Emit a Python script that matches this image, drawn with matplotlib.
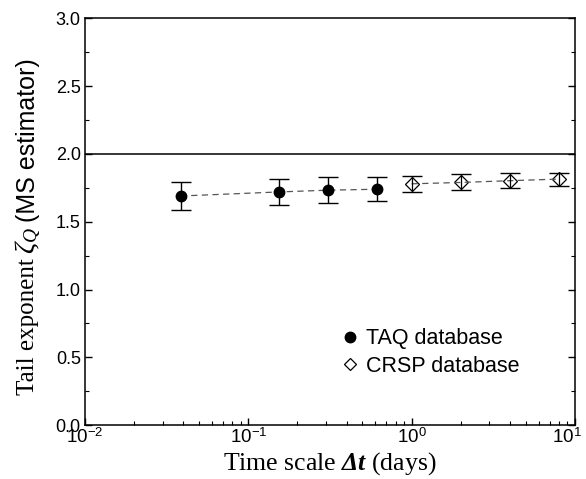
import numpy as np
import matplotlib.pyplot as plt
import matplotlib.transforms as mtransforms
from matplotlib.lines import Line2D
from matplotlib.ticker import MultipleLocator, LogLocator, NullFormatter

plt.rcParams['mathtext.fontset'] = 'custom'
plt.rcParams['mathtext.rm'] = 'Liberation Sans'
plt.rcParams['mathtext.it'] = 'Liberation Serif:italic'
plt.rcParams['mathtext.bf'] = 'Liberation Serif:bold:italic'

# TAQ (intraday) and CRSP (daily) estimates
taq_dt = [0.0385, 0.154, 0.308, 0.615]
taq_zeta = [1.69, 1.72, 1.733, 1.74]
taq_err = [0.102, 0.098, 0.095, 0.09]

crsp_dt = [1.0, 2.0, 4.0, 8.0]
crsp_zeta = [1.78, 1.79, 1.803, 1.815]
crsp_err = [0.06, 0.059, 0.054, 0.048]

sans = ['Liberation Sans', 'DejaVu Sans']
serif = ['Liberation Serif', 'DejaVu Serif']

fig = plt.figure(figsize=(5.86, 4.79), dpi=100)
ax = fig.add_axes([0.145, 0.1127, 0.836, 0.8487])

ax.axhline(2.0, color='black', lw=1.1, zorder=1)

# dashed guide lines through each data set
ax.plot(taq_dt, taq_zeta, ls=(0, (5, 3.5)), color='#555555', lw=0.9, zorder=4)
ax.plot(crsp_dt, crsp_zeta, ls=(0, (5, 3.5)), color='#555555', lw=0.9, zorder=4)

ax.plot(taq_dt, taq_zeta, 'o', color='black', ms=7.5, zorder=5)
ax.errorbar(taq_dt, taq_zeta, yerr=taq_err, fmt='none', ecolor='black',
            capsize=7.2, elinewidth=1.0, capthick=1.0, zorder=3)
ax.plot(crsp_dt, crsp_zeta, 'D', mfc='white', mec='black', ms=7, mew=0.9, zorder=3)
ax.errorbar(crsp_dt, crsp_zeta, yerr=crsp_err, fmt='none', ecolor='black',
            capsize=7, elinewidth=0.9, capthick=1.0, zorder=4)

ax.set_xscale('log')
ax.set_xlim(1e-2, 1e1)
ax.set_ylim(0, 3)
ax.yaxis.set_major_locator(MultipleLocator(0.5))
ax.yaxis.set_minor_locator(MultipleLocator(0.25))
ax.xaxis.set_minor_locator(LogLocator(base=10, subs=np.arange(2, 10), numticks=20))
ax.xaxis.set_minor_formatter(NullFormatter())

ax.tick_params(which='both', direction='in', right=True, top=False)
ax.tick_params(which='major', length=5, width=1)
ax.tick_params(which='minor', length=3, width=0.8)
ax.tick_params(axis='y', pad=3)
ax.tick_params(axis='x', pad=2)
for s in ax.spines.values():
    s.set_linewidth(1.1)

yt = np.arange(0, 3.01, 0.5)
ax.set_yticks(yt)
ax.set_yticklabels(['%.1f' % v for v in yt], family=sans, fontsize=13)
ax.set_xticks([1e-2, 1e-1, 1e0, 1e1])
ax.set_xticklabels([r'$10^{-2}$', r'$10^{-1}$', r'$10^{0}$', r'$10^{1}$'], fontsize=13.5)
# last label sits at the figure edge; nudge it in a little
last = ax.get_xticklabels()[-1]
last.set_transform(last.get_transform() +
                   mtransforms.ScaledTranslation(-6 / 72, 0, fig.dpi_scale_trans))

ax.set_xlabel(r'Time scale $\mathbf{\Delta t}$ (days)', family=serif, fontsize=18.5, labelpad=2)

# y label built from three pieces (serif, greek, sans), stacked bottom to top
fig.canvas.draw()
r = fig.canvas.get_renderer()
xl = 0.048
y_bot = 1 - 395 / 479
t1 = fig.text(xl, y_bot, 'Tail exponent', rotation=90, family=serif,
              fontsize=18, ha='center', va='bottom')
top = t1.get_window_extent(r).transformed(fig.transFigure.inverted()).y1
t2 = fig.text(xl + 0.002, top + 0.008, r'$\zeta_Q$', rotation=90, fontsize=20,
              ha='center', va='bottom')
top = t2.get_window_extent(r).transformed(fig.transFigure.inverted()).y1
fig.text(xl, top + 0.012, '(MS estimator)', rotation=90, family=sans,
         fontsize=18, ha='center', va='bottom')

handles = [Line2D([], [], ls='none', marker='o', color='black', ms=7.5),
           Line2D([], [], ls='none', marker='D', mfc='white', mec='black', ms=6, mew=0.9)]
ax.legend(handles, ['TAQ database', 'CRSP database'], loc='center left',
          bbox_to_anchor=(0.49, 0.178), frameon=False,
          prop={'family': sans, 'size': 15.5}, handletextpad=0.0,
          labelspacing=0.3, handlelength=1.5, borderaxespad=0)

fig.savefig('out.png', dpi=100)
